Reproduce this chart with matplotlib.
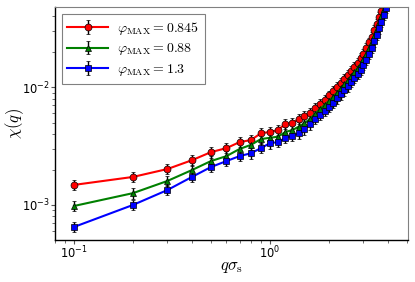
import matplotlib
matplotlib.use("Agg")
import matplotlib.pyplot as plt
import numpy as np

plt.rcParams['mathtext.fontset'] = 'cm'
plt.rcParams['font.family'] = ['DejaVu Sans']

q = [0.1, 0.2, 0.3, 0.4, 0.5, 0.6, 0.7, 0.8, 0.9, 1.0,
     1.1, 1.2, 1.3, 1.4, 1.5, 1.6, 1.7, 1.8, 1.9, 2.0,
     2.1, 2.2, 2.3, 2.4, 2.5, 2.6, 2.7, 2.8, 2.9, 3.0,
     3.1, 3.2, 3.3, 3.4, 3.5, 3.6, 3.7, 3.8, 3.9, 4.0]

chi_0845 = [1.48e-3, 1.73e-3, 2.02e-3, 2.40e-3, 2.81e-3, 3.04e-3, 3.42e-3, 3.56e-3, 4.07e-3, 4.17e-3,
            4.33e-3, 4.90e-3, 4.95e-3, 5.37e-3, 5.68e-3, 6.10e-3, 6.68e-3, 7.24e-3, 7.85e-3, 8.51e-3,
            9.23e-3, 1.00e-2, 1.08e-2, 1.17e-2, 1.27e-2, 1.38e-2, 1.50e-2, 1.62e-2, 1.76e-2, 1.93e-2,
            2.14e-2, 2.40e-2, 2.69e-2, 3.05e-2, 3.47e-2, 3.94e-2, 4.47e-2, 5.13e-2, 5.89e-2, 6.76e-2]

chi_088 = [0.98e-3, 1.26e-3, 1.60e-3, 1.98e-3, 2.36e-3, 2.60e-3, 2.99e-3, 3.24e-3, 3.63e-3, 3.72e-3,
           3.80e-3, 4.17e-3, 4.32e-3, 4.62e-3, 4.95e-3, 5.37e-3, 5.96e-3, 6.53e-3, 7.08e-3, 7.67e-3,
           8.32e-3, 9.02e-3, 9.77e-3, 1.06e-2, 1.15e-2, 1.24e-2, 1.35e-2, 1.46e-2, 1.58e-2, 1.74e-2,
           1.93e-2, 2.16e-2, 2.43e-2, 2.75e-2, 3.13e-2, 3.55e-2, 4.03e-2, 4.62e-2, 5.31e-2, 6.10e-2]

chi_13 = [0.65e-3, 1.00e-3, 1.34e-3, 1.73e-3, 2.10e-3, 2.36e-3, 2.60e-3, 2.75e-3, 3.04e-3, 3.35e-3,
          3.42e-3, 3.72e-3, 3.85e-3, 4.07e-3, 4.40e-3, 4.85e-3, 5.37e-3, 5.82e-3, 6.31e-3, 6.84e-3,
          7.41e-3, 8.04e-3, 8.71e-3, 9.44e-3, 1.02e-2, 1.11e-2, 1.20e-2, 1.30e-2, 1.41e-2, 1.55e-2,
          1.72e-2, 1.93e-2, 2.16e-2, 2.45e-2, 2.79e-2, 3.16e-2, 3.59e-2, 4.12e-2, 4.73e-2, 5.43e-2]

rel_err = 0.10
labels = [r'$\varphi_\mathrm{MAX} = 0.845$', r'$\varphi_\mathrm{MAX} = 0.88$', r'$\varphi_\mathrm{MAX} = 1.3$']
series = [chi_0845, chi_088, chi_13]
colors = ['red', 'green', 'blue']
markers = ['o', '^', 's']

fig = plt.figure(figsize=(4.15, 2.82), dpi=100)
ax = fig.add_axes([0.1325, 0.149, 0.8505, 0.826])

for ys, c, m, lab in zip(series, colors, markers, labels):
    ys = np.array(ys)
    ax.errorbar(q, ys, yerr=rel_err * ys, color=c, marker=m, markersize=5,
                markeredgecolor='black', markeredgewidth=0.5, lw=1.5,
                ecolor='black', elinewidth=1.0, capsize=1.5, capthick=1.0, label=lab)

ax.set_xscale('log')
ax.set_yscale('log')
ax.set_xlim(0.08, 5.06)
ax.set_ylim(5.04e-4, 4.8e-2)

for s in ['top', 'right']:
    ax.spines[s].set_color('#808080')
for s in ['left', 'bottom']:
    ax.spines[s].set_color('black')
    ax.spines[s].set_linewidth(1.0)

ax.tick_params(which='both', direction='out', top=False, right=False, labelsize=8.3,
               color='#555555', pad=0.5)
ax.tick_params(which='major', length=3)
ax.tick_params(which='minor', length=2)

ax.set_xlabel(r'$q\sigma_\mathrm{s}$', fontsize=12)
ax.set_ylabel(r'$\chi(q)$', fontsize=12)
ax.xaxis.set_label_coords(0.5, -0.075)
ax.yaxis.set_label_coords(-0.082, 0.5)

leg = ax.legend(loc='upper left', fontsize=10, fancybox=False, edgecolor='#808080',
                framealpha=1, handlelength=2.9, borderpad=0.4, labelspacing=0.35,
                handletextpad=0.7)
leg.get_frame().set_linewidth(0.8)

fig.savefig('out.png', dpi=100)
